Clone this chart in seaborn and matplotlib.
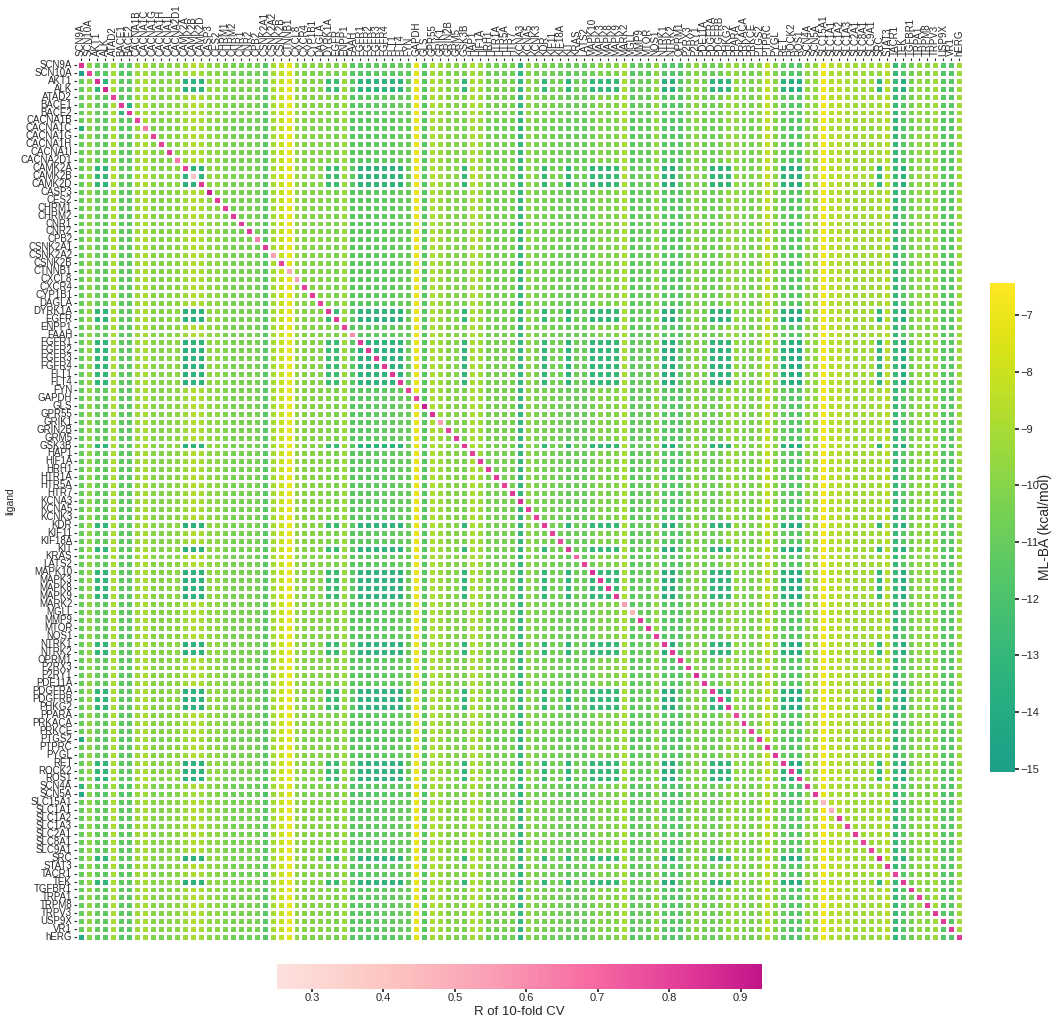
import numpy as np
import pandas as pd
import seaborn as sns
import matplotlib.pyplot as plt
from matplotlib.colors import ListedColormap

targets = ["SCN9A", "SCN10A", "AKT1", "ALK", "ATAD2", "BACE1", "BACE2", "CACNA1B", "CACNA1C",
           "CACNA1G", "CACNA1H", "CACNA1I", "CACNA2D1", "CAMK2A", "CAMK2B", "CAMK2D", "CASP3",
           "CES2", "CHRM1", "CHRM2", "CNR1", "CNR2", "CPB2", "CSNK2A1", "CSNK2A2", "CSNK2B",
           "CTNNB1", "CXCL8", "CXCR4", "CYP1B1", "DAGLA", "DYRK1A", "EGFR", "ENPP1", "FAAH",
           "FGFR1", "FGFR2", "FGFR3", "FGFR4", "FLT1", "FLT4", "FYN", "GAPDH", "GLS", "GPR55",
           "GRIK1", "GRIN2B", "GRM5", "GSK3B", "HAP1", "HIF1A", "HRH1", "HTR1A", "HTR5A", "HTR7",
           "KCNA3", "KCNA5", "KCNK3", "KDR", "KIF11", "KIF18A", "KIT", "KRAS", "LATS2", "MAPK10",
           "MAPK3", "MAPK8", "MAPK9", "MARK2", "MGLL", "MMP9", "MTOR", "NOS1", "NTRK1", "NTRK2",
           "OPRM1", "P2RX3", "P2RY1", "PDE11A", "PDGFRA", "PDGFRB", "PHKG2", "PPARA", "PRKACA",
           "PRKCE", "PTGS2", "PTPRC", "PYGL", "RET", "ROCK2", "ROS1", "SCN4A", "SCN5A", "SLC15A1",
           "SLC1A1", "SLC1A2", "SLC1A3", "SLC2A1", "SLC8A1", "SLC9A1", "SRC", "STAT3", "TACR1",
           "TEK", "TGFBR1", "TRPA1", "TRPM8", "TRPV3", "USP9X", "VR1", "hERG"]

# typical ML-BA of each target column (kcal/mol), read from non-kinase rows
col_ba = [-11.0, -9.8, -11.0, -11.3, -9.0, -11.3, -11.3, -9.2, -9.0, -10.0, -10.1, -10.0, -9.8,
          -9.2, -8.8, -9.0, -9.8, -9.8, -10.3, -10.5, -10.5, -10.5, -10.5, -11.5, -9.0, -8.2,
          -7.2, -9.6, -10.0, -10.0, -10.0, -10.1, -10.3, -9.4, -11.5, -11.4, -11.4, -11.2, -11.2,
          -11.2, -11.0, -11.0, -7.1, -11.5, -8.9, -9.4, -10.0, -10.0, -10.3, -8.9, -9.4, -10.5,
          -10.5, -10.5, -10.5, -13.0, -9.8, -10.3, -10.5, -10.5, -10.7, -11.0, -10.8, -11.0,
          -10.5, -10.0, -10.3, -10.0, -9.0, -11.3, -11.0, -11.0, -9.6, -11.5, -11.5, -11.5,
          -10.3, -9.8, -10.5, -10.7, -10.5, -9.6, -9.6, -10.3, -10.3, -10.0, -8.3, -10.0,
          -11.0, -11.5, -11.5, -9.6, -9.6, -6.9, -8.8, -8.8, -9.0, -9.2, -9.2, -9.4, -9.3,
          -8.6, -12.8, -11.5, -10.5, -9.6, -10.0, -9.2, -11.5, -11.5, -9.2]

# ligand rows that sit a little above/below the column level
row_shift = {"SCN10A": -0.2, "CACNA1C": -0.2, "SCN4A": -0.2, "SCN5A": -0.3, "PTGS2": -0.2,
             "hERG": -0.2, "TACR1": -0.1, "CAMK2B": 0.2, "CPB2": 0.1}

# kinase ligands are much stronger on kinase targets
kinases = ["AKT1", "ALK", "CAMK2A", "CAMK2B", "CAMK2D", "DYRK1A", "EGFR", "FGFR1", "FGFR2",
           "FGFR3", "FGFR4", "FLT1", "FLT4", "GSK3B", "KDR", "KIT", "MAPK10", "MAPK3", "MAPK8",
           "MAPK9", "NTRK1", "NTRK2", "PDGFRA", "PDGFRB", "PHKG2", "RET", "ROCK2", "ROS1", "SRC",
           "TEK"]
kinase_gain = {"AKT1": -2.0, "ALK": -2.0, "CAMK2A": -4.3, "CAMK2B": -4.6, "CAMK2D": -4.4,
               "DYRK1A": -2.5, "EGFR": -2.3, "FGFR1": -2.0, "FGFR2": -2.0, "FGFR3": -2.1,
               "FGFR4": -2.1, "FLT1": -2.1, "FLT4": -2.3, "GSK3B": -2.7, "KDR": -2.5,
               "KIT": -2.3, "MAPK10": -2.5, "MAPK3": -2.8, "MAPK8": -2.7, "MAPK9": -2.8,
               "NTRK1": -2.0, "NTRK2": -2.0, "PDGFRA": -2.5, "PDGFRB": -2.7, "PHKG2": -3.5,
               "RET": -2.3, "ROCK2": -2.1, "ROS1": -2.1, "SRC": -3.9, "TEK": -2.1}

# single cells that stand out (ligand, target, ML-BA)
spots = [("SCN10A", "SCN9A", -14.6), ("CACNA1C", "SCN9A", -13.6), ("SCN4A", "SCN9A", -13.0),
         ("SCN5A", "SCN9A", -14.2), ("PTGS2", "SCN9A", -14.0), ("hERG", "SCN9A", -14.2),
         ("BACE1", "BACE2", -13.5), ("BACE2", "BACE1", -13.2)]

# diagonal: R of 10-fold CV of each target model
diag_r = [0.85, 0.80, 0.85, 0.88, 0.80, 0.82, 0.83, 0.80, 0.65, 0.80, 0.80, 0.82, 0.65, 0.80,
          0.40, 0.82, 0.90, 0.82, 0.82, 0.82, 0.82, 0.82, 0.62, 0.82, 0.55, 0.80, 0.50, 0.55,
          0.80, 0.82, 0.80, 0.82, 0.82, 0.80, 0.60, 0.82, 0.82, 0.82, 0.82, 0.82, 0.82, 0.80,
          0.80, 0.90, 0.85, 0.55, 0.80, 0.82, 0.82, 0.80, 0.82, 0.82, 0.82, 0.80, 0.82, 0.85,
          0.82, 0.80, 0.82, 0.80, 0.78, 0.82, 0.70, 0.80, 0.85, 0.82, 0.82, 0.82, 0.55, 0.45,
          0.82, 0.82, 0.80, 0.82, 0.82, 0.82, 0.80, 0.85, 0.82, 0.82, 0.82, 0.82, 0.78, 0.82,
          0.80, 0.82, 0.82, 0.82, 0.82, 0.82, 0.82, 0.80, 0.82, 0.45, 0.50, 0.82, 0.80, 0.82,
          0.80, 0.80, 0.85, 0.82, 0.80, 0.82, 0.82, 0.80, 0.82, 0.82, 0.82, 0.82, 0.82]

n = len(targets)
idx = {t: i for i, t in enumerate(targets)}
ba = np.tile(np.array(col_ba, dtype=float), (n, 1))
for lig, s in row_shift.items():
    ba[idx[lig], :] += s
for lig in kinases:
    for tgt in kinases:
        ba[idx[lig], idx[tgt]] += kinase_gain[tgt]
for lig, tgt, v in spots:
    ba[idx[lig], idx[tgt]] = v

on_diag = np.eye(n, dtype=bool)
ba_df = pd.DataFrame(ba, index=targets, columns=targets)
r_df = pd.DataFrame(np.diag(diag_r), index=targets, columns=targets)

green = ListedColormap(plt.get_cmap("viridis")(np.linspace(0.56, 1.0, 256)))
pink = ListedColormap(plt.get_cmap("RdPu")(np.linspace(0.12, 0.70, 256)))

sns.set_theme(style="ticks")
plt.rcParams["font.family"] = ["Liberation Sans", "DejaVu Sans"]
plt.rcParams["text.color"] = "#262626"
plt.rcParams["xtick.color"] = "#262626"
plt.rcParams["ytick.color"] = "#262626"

fig = plt.figure(figsize=(10.52, 10.19), dpi=100)
W, H = 1052, 1019
ax = fig.add_axes([77 / W, 1 - 941 / H, 886 / W, 880 / H])
cax_ba = fig.add_axes([990 / W, 1 - 772 / H, 25 / W, 489 / H])
cax_r = fig.add_axes([277 / W, 1 - 989 / H, 485 / W, 25 / H])

sns.heatmap(ba_df, mask=on_diag, cmap=green, vmin=-15.06, vmax=-6.43,
            linewidths=0.78, linecolor="white", ax=ax, cbar_ax=cax_ba,
            xticklabels=targets, yticklabels=targets)
sns.heatmap(r_df, mask=~on_diag, cmap=pink, vmin=0.251, vmax=0.930,
            linewidths=0.78, linecolor="white", ax=ax, cbar_ax=cax_r,
            cbar_kws={"orientation": "horizontal"},
            xticklabels=targets, yticklabels=targets)

ax.xaxis.tick_top()
ax.set_xticks(np.arange(n) + 0.5)
ax.set_xticklabels(targets, rotation=90, fontsize=7)
ax.set_yticks(np.arange(n) + 0.5)
ax.set_yticklabels(targets, rotation=0, fontsize=7)
ax.tick_params(length=2.5, width=0.8, pad=1)
ax.set_xlabel("")
ax.set_ylabel("ligand", fontsize=7.5)

cax_ba.tick_params(labelsize=8, length=3, pad=1)
cax_r.tick_params(labelsize=8, length=2.5, pad=0.5)
fig.text(1045 / W, 1 - 527 / H, "ML-BA (kcal/mol)", rotation=90, ha="center", va="center",
         fontsize=10)
fig.text(519 / W, 1 - 1012 / H, "R of 10-fold CV", ha="center", va="center", fontsize=9.5)

fig.savefig("out.png", dpi=100)
